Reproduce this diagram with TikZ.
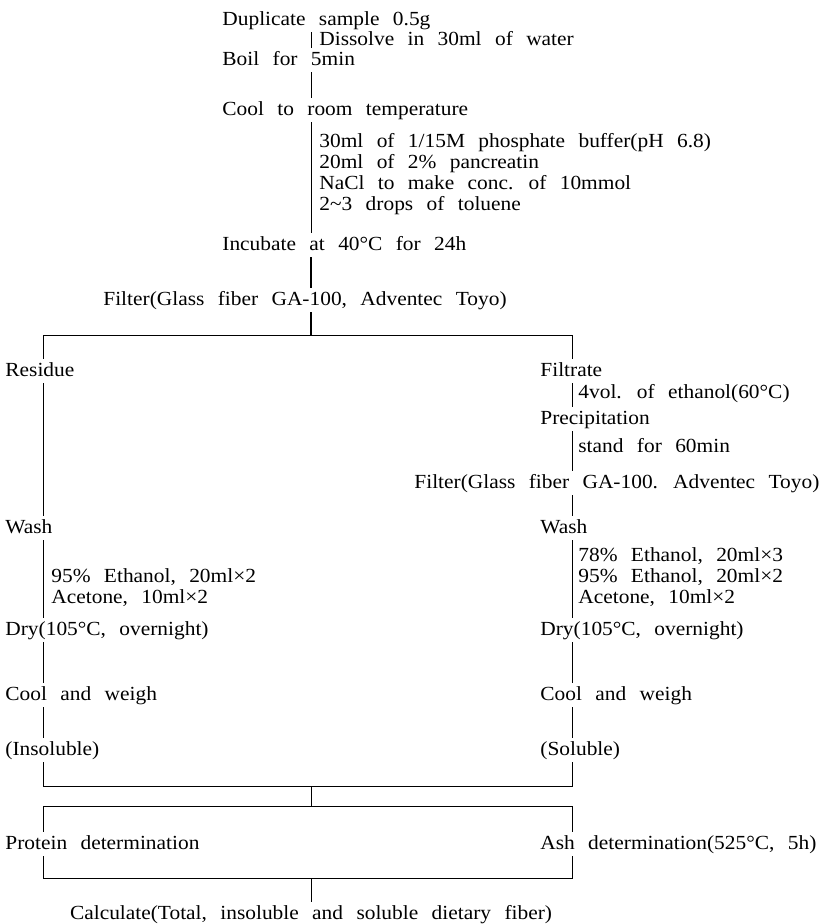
\documentclass[tikz,border=0pt]{standalone}
\usepackage{fontspec}
\setmainfont{Liberation Serif}[WordSpace=2.5,FakeStretch=1.07]
\usepackage{tikz}

\begin{document}
\begin{tikzpicture}[x=1pt,y=-1pt,
  txt/.style={anchor=west,inner xsep=0pt,inner ysep=3pt,text height=14pt,text depth=4pt,
    font=\fontsize{20pt}{22pt}\selectfont},
  every path/.style={line width=0.8pt},
  heavy/.style={line width=1.8pt}]
\useasboundingbox (0,0) rectangle (837,924);
\coordinate (mx) at (311,0);
\coordinate (lx) at (43,0);
\coordinate (rx) at (572,0);
\node[txt] (dup) at (222,20) {Duplicate sample 0.5g};
\node[txt] (dis) at (319,40) {Dissolve in 30ml of water};
\node[txt] (boil) at (222,60) {Boil for 5min};
\node[txt] (cool) at (222,110) {Cool to room temperature};
\node[txt] (buf) at (319,142) {30ml of 1/15M phosphate buffer(pH 6.8)};
\node[txt] (pan) at (319,163) {20ml of 2\% pancreatin};
\node[txt] (nacl) at (319,184) {NaCl to make conc. of 10mmol};
\node[txt] (tol) at (319,205) {2\textasciitilde3 drops of toluene};
\node[txt] (inc) at (222,245) {Incubate at 40°C for 24h};
\node[txt,anchor=center] (filt) at (305,300) {Filter(Glass fiber GA-100, Adventec Toyo)};
\node[txt] (res) at (5,371) {Residue};
\node[txt] (fil) at (540,371) {Filtrate};
\node[txt] (eth) at (578,393) {4vol. of ethanol(60°C)};
\node[txt] (pre) at (540,419) {Precipitation};
\node[txt] (std) at (578,447) {stand for 60min};
\node[txt] (filt2) at (414,483) {Filter(Glass fiber GA-100. Adventec Toyo)};
\node[txt] (lwash) at (5,528) {Wash};
\node[txt] (rwash) at (540,528) {Wash};
\node[txt] (re1) at (578,556) {78\% Ethanol, 20ml×3};
\node[txt] (le1) at (51,577) {95\% Ethanol, 20ml×2};
\node[txt] (re2) at (578,577) {95\% Ethanol, 20ml×2};
\node[txt] (le2) at (51,598) {Acetone, 10ml×2};
\node[txt] (re3) at (578,598) {Acetone, 10ml×2};
\node[txt] (ldry) at (5,630) {Dry(105°C, overnight)};
\node[txt] (rdry) at (540,630) {Dry(105°C, overnight)};
\node[txt] (lcw) at (5,695) {Cool and weigh};
\node[txt] (rcw) at (540,695) {Cool and weigh};
\node[txt] (ins) at (5,750) {(Insoluble)};
\node[txt] (sol) at (540,750) {(Soluble)};
\node[txt] (prot) at (5,844) {Protein determination};
\node[txt] (ash) at (540,844) {Ash determination(525°C, 5h)};
\node[txt,anchor=center] (calc) at (311,914) {Calculate(Total, insoluble and soluble dietary fiber)};
\coordinate (split) at (311,335);
\coordinate (join) at (311,786);
\coordinate (fork) at (311,806);
\coordinate (merge) at (311,878);

\draw (dup.south -| mx) -- (boil.north -| mx);
\draw (boil.south -| mx) -- (cool.north -| mx);
\draw (cool.south -| mx) -- (inc.north -| mx);
\draw[heavy] (inc.south -| mx) -- (filt.north -| mx);
\draw[heavy] (filt.south -| mx) -- (split);
\draw (res.north -| lx) -- (lx |- split) -- (rx |- split) -- (fil.north -| rx);
\draw (res.south -| lx) -- (lwash.north -| lx);
\draw (fil.south -| rx) -- (pre.north -| rx);
\draw (pre.south -| rx) -- (filt2.north -| rx);
\draw (filt2.south -| rx) -- (rwash.north -| rx);
\draw (lwash.south -| lx) -- (ldry.north -| lx);
\draw (rwash.south -| rx) -- (rdry.north -| rx);
\draw (ldry.south -| lx) -- (lcw.north -| lx);
\draw (rdry.south -| rx) -- (rcw.north -| rx);
\draw (lcw.south -| lx) -- (ins.north -| lx);
\draw (rcw.south -| rx) -- (sol.north -| rx);
\draw (ins.south -| lx) -- (lx |- join) -- (rx |- join) -- (sol.south -| rx);
\draw (join) -- (fork);
\draw (prot.north -| lx) -- (lx |- fork) -- (rx |- fork) -- (ash.north -| rx);
\draw (prot.south -| lx) -- (lx |- merge) -- (rx |- merge) -- (ash.south -| rx);
\draw (merge) -- (calc.north);
\end{tikzpicture}
\end{document}
